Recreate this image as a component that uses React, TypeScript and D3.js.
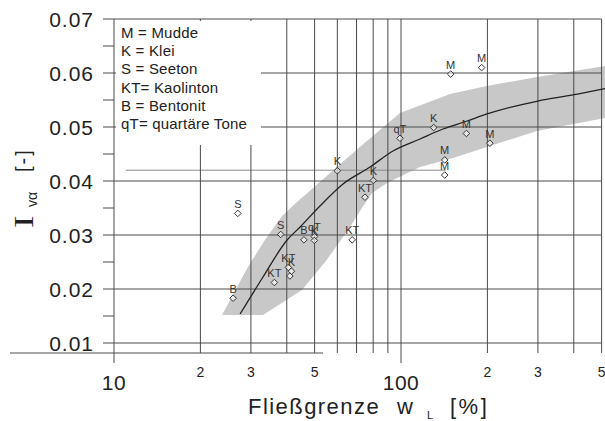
import React from "react";
import * as d3 from "d3";

// ---- data ----
const pointLabels = ["S", "S", "B", "KT", "KT", "K", "", "B", "qT", "K", "KT", "K", "K", "KT", "qT", "K", "M", "M", "M", "M", "M", "M"];
const pointWL = [27.0, 38.1, 26.0, 36.2, 40.5, 41.5, 41.0, 45.9, 49.9, 49.9, 67.6, 60.0, 80.1, 74.9, 99.2, 130, 169, 204, 142, 142, 149, 191];
const pointI = [0.034, 0.0301, 0.0183, 0.0212, 0.024, 0.0233, 0.0224, 0.0291, 0.0297, 0.029, 0.0291, 0.0419, 0.0401, 0.037, 0.0479, 0.0499, 0.0488, 0.047, 0.0439, 0.0411, 0.0598, 0.061];

const curveWL = [27.5, 33.05, 40.1, 44.5, 52.2, 62.8, 78.0, 93.8, 116.5, 140, 169.8, 199.4, 300, 397, 513.7];
const curveI = [0.01537, 0.02222, 0.02907, 0.03148, 0.03537, 0.03944, 0.04259, 0.04556, 0.04778, 0.04963, 0.05111, 0.05241, 0.05481, 0.05593, 0.0571];

const bandUpperWL = [23.8, 29.3, 33.6, 38.5, 43.8, 49.4, 59.8, 71.9, 99.2, 148.2, 199, 297.8, 513.7];
const bandUpperI = [0.0152, 0.0241, 0.0291, 0.03352, 0.0363, 0.0387, 0.04259, 0.0463, 0.05259, 0.05611, 0.05759, 0.05926, 0.0613];
const bandLowerWL = [513.7, 297.8, 199, 151.8, 116.5, 89.4, 79.3, 73.1, 65.4, 54.4, 45.2, 33.05];
const bandLowerI = [0.05167, 0.04926, 0.0463, 0.04426, 0.04259, 0.03963, 0.03778, 0.035, 0.03093, 0.025, 0.01981, 0.01519];

const xGridValues = [20, 30, 40, 50, 60, 70, 80, 90, 100, 200, 300, 400, 500];
const xMajorTicks = [10, 100];
const xMajorLabels = ["10", "100"];
const xMinorLabelValues = [20, 30, 50, 200, 300, 500];
const xMinorLabels = ["2", "3", "5", "2", "3", "5"];
const yTicks = [0.01, 0.02, 0.03, 0.04, 0.05, 0.06, 0.07];
const yTickLabels = ["0.01", "0.02", "0.03", "0.04", "0.05", "0.06", "0.07"];
const yMinorTicks = [0.015, 0.025, 0.035, 0.045, 0.055, 0.065];
const refLineWL = [11, 143];
const refLineI = 0.042;

const legendLines = ["M = Mudde", "K = Klei", "S = Seeton", "KT= Kaolinton", "B = Bentonit", "qT= quartäre Tone"];

// ---- layout ----
const W = 605;
const H = 421;
const x = d3.scaleLog().domain([10, 1000]).range([114, 688]);
const y = d3.scaleLinear().domain([0.01, 0.07]).range([343, 19]);
const xRight = x(500);
const yTop = y(0.07);
const yBottom = 353;
const legendBox = { x0: 116, x1: 261, y0: 21, y1: 145 };

const sans = "'Liberation Sans', Arial, Helvetica, sans-serif";
const serif = "'Liberation Serif', 'Times New Roman', serif";
const gridColor = "#4a4a4a";
const textColor = "#222";

export default function App() {
  const curvePts: [number, number][] = curveWL.map((v, i) => [x(v), y(curveI[i])]);
  const curvePath = d3.line().curve(d3.curveMonotoneX)(curvePts) || "";

  const bandPts: [number, number][] = [
    ...bandUpperWL.map((v, i) => [x(v), y(bandUpperI[i])] as [number, number]),
    ...bandLowerWL.map((v, i) => [x(v), y(bandLowerI[i])] as [number, number]),
  ];
  const bandPath = d3.line().curve(d3.curveLinearClosed)(bandPts) || "";

  const diamond = (cx: number, cy: number) => {
    const r = 3.3;
    return `M${cx},${cy - r}L${cx + r},${cy}L${cx},${cy + r}L${cx - r},${cy}Z`;
  };

  return (
    <svg width={W} height={H} style={{ position: "absolute", left: 0, top: 0, background: "#fff" }}>
      <rect x={0} y={0} width={W} height={H} fill="#fff" />
      {/* band */}
      <path d={bandPath} fill="#c8c8c8" stroke="none" />

      {/* horizontal gridlines */}
      {yTicks.map((t) => (
        <line key={"hy" + t} x1={103} x2={xRight} y1={y(t)} y2={y(t)} stroke={gridColor} strokeWidth={1} />
      ))}
      {yMinorTicks.map((t) => (
        <line key={"my" + t} x1={103} x2={x(10)} y1={y(t)} y2={y(t)} stroke={gridColor} strokeWidth={1} />
      ))}
      {/* reference line */}
      <line x1={x(refLineWL[0])} x2={x(refLineWL[1])} y1={y(refLineI)} y2={y(refLineI)} stroke="#8a8a8a" strokeWidth={1} />

      {/* vertical gridlines */}
      {xGridValues.map((v) => (
        <line key={"vx" + v} x1={x(v)} x2={x(v)} y1={yTop} y2={v === 100 ? 363 : yBottom} stroke={gridColor} strokeWidth={1} />
      ))}
      <line x1={x(10)} x2={x(10)} y1={yTop} y2={363} stroke={gridColor} strokeWidth={1} />
      {/* baseline */}
      <line x1={10} x2={323} y1={yBottom} y2={yBottom} stroke={gridColor} strokeWidth={1} />

      {/* legend box */}
      <rect x={legendBox.x0} y={legendBox.y0} width={legendBox.x1 - legendBox.x0} height={legendBox.y1 - legendBox.y0} fill="#fff" />
      {legendLines.map((t, i) => (
        <text key={t} x={121} y={38 + i * 18.2} fontFamily={sans} fontSize={15} letterSpacing={0.2} fill={textColor}>
          {t}
        </text>
      ))}

      {/* curve */}
      <path d={curvePath} fill="none" stroke="#222" strokeWidth={1.3} />

      {/* points */}
      {pointWL.map((v, i) => {
        const cx = x(v);
        const cy = y(pointI[i]);
        return (
          <g key={"p" + i}>
            <path d={diamond(cx, cy)} fill="#fff" fillOpacity={0.6} stroke="#333" strokeWidth={1} />
            {pointLabels[i] && (
              <text x={cx} y={cy - 5.5} textAnchor="middle" fontFamily={sans} fontSize={11} fill="#333">
                {pointLabels[i]}
              </text>
            )}
          </g>
        );
      })}

      {/* y tick labels */}
      {yTicks.map((t, i) => (
        <text key={"yl" + t} x={94} y={y(t) + 8} textAnchor="end" fontFamily={sans} fontSize={21} letterSpacing={1} fill={textColor}>
          {yTickLabels[i]}
        </text>
      ))}

      {/* x tick labels */}
      {xMajorTicks.map((v, i) => (
        <text key={"xl" + v} x={x(v)} y={390} textAnchor="middle" fontFamily={sans} fontSize={21} letterSpacing={0.5} fill={textColor}>
          {xMajorLabels[i]}
        </text>
      ))}
      {xMinorLabelValues.map((v, i) => (
        <text key={"xm" + v} x={x(v)} y={377} textAnchor="middle" fontFamily={sans} fontSize={14} fill={textColor}>
          {xMinorLabels[i]}
        </text>
      ))}

      {/* x title */}
      <text x={248} y={414} fontFamily={sans} fontSize={22} letterSpacing={1.45} fill={textColor}>
        Fließgrenze
      </text>
      <text x={397} y={414} fontFamily={sans} fontSize={22} fill={textColor}>
        w
      </text>
      <text x={427} y={419} fontFamily={sans} fontSize={11} fill={textColor}>
        L
      </text>
      <text x={450} y={414} fontFamily={sans} fontSize={22} letterSpacing={2.5} fill={textColor}>
        [%]
      </text>

      {/* y title */}
      <g transform="translate(0,228) rotate(-90)">
        <text x={0} y={33} fontFamily={serif} fontSize={28} fill={textColor} transform="scale(1.35,1)">
          I
        </text>
        <text x={21} y={37} fontFamily={sans} fontSize={14} fill={textColor}>
          vα
        </text>
        <text x={56} y={30} fontFamily={sans} fontSize={20} letterSpacing={2} fill={textColor}>
          [-]
        </text>
      </g>
    </svg>
  );
}
